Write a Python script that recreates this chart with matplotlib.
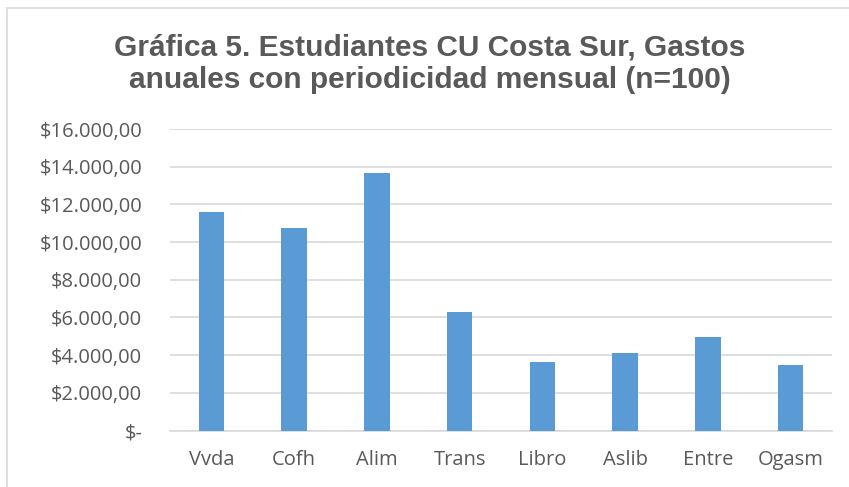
import matplotlib.pyplot as plt
from matplotlib.ticker import FuncFormatter
from matplotlib.patches import Rectangle

categorias = ["Vvda", "Cofh", "Alim", "Trans", "Libro", "Aslib", "Entre", "Ogasm"]
gastos = [11600, 10760, 13640, 6270, 3620, 4100, 4940, 3460]
ticks_y = [0, 2000, 4000, 6000, 8000, 10000, 12000, 14000, 16000]

gris = "#595959"
azul = "#5b9bd5"


def formato_pesos(v, pos):
    if v == 0:
        return "$-"
    s = f"{v:,.2f}"
    s = s.replace(",", "X").replace(".", ",").replace("X", ".")
    return "$" + s


fig = plt.figure(figsize=(8.49, 4.87), dpi=100)
# borde del area del grafico
fig.patches.append(Rectangle((7 / 849, -0.01), 1.0, 1 - 8 / 487 + 0.01,
                             transform=fig.transFigure, fill=False,
                             edgecolor="#d9d9d9", linewidth=1.2))

ax = fig.add_axes([170 / 849, 1 - 430.5 / 487, 662 / 849, (430.5 - 129) / 487])
x = range(len(categorias))
ax.bar(x, gastos, width=0.31, color=azul, zorder=3)

ax.set_xlim(-0.5, len(categorias) - 0.5)
ax.set_ylim(0, 16000)
ax.set_yticks(ticks_y)
ax.yaxis.set_major_formatter(FuncFormatter(formato_pesos))
ax.set_xticks(list(x))
ax.set_xticklabels(categorias)

ax.grid(axis="y", color="#d9d9d9", linewidth=1.2, zorder=0)
for lado in ["top", "right", "left"]:
    ax.spines[lado].set_visible(False)
ax.spines["bottom"].set_color("#d9d9d9")
ax.spines["bottom"].set_linewidth(1.2)
ax.tick_params(axis="both", length=0, colors=gris, labelsize=14.5)
ax.tick_params(axis="y", pad=20)
ax.tick_params(axis="x", pad=14)
for t in ax.get_xticklabels() + ax.get_yticklabels():
    t.set_fontfamily("Open Sans")

fig.text(0.506, 1 - 64 / 487,
         "Gráfica 5. Estudiantes CU Costa Sur, Gastos\nanuales con periodicidad mensual (n=100)",
         ha="center", va="center", fontsize=21.5, fontweight="bold", color=gris,
         family="Liberation Sans", linespacing=1.2)

fig.savefig("out.png", dpi=100)
